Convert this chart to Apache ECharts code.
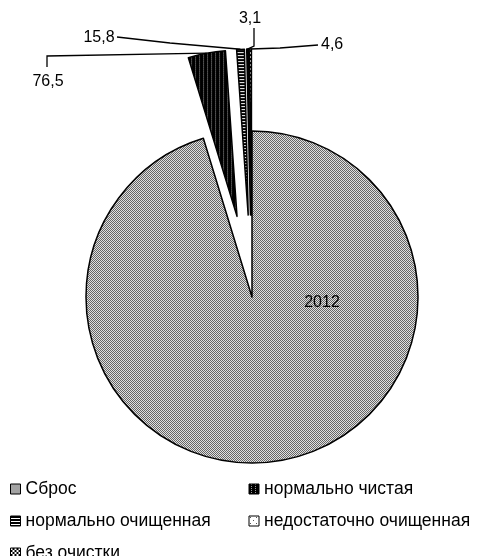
<!DOCTYPE html>
<html>
<head>
<meta charset="utf-8">
<script src="https://cdn.jsdelivr.net/npm/echarts@6/dist/echarts.min.js"></script>
<style>
  html, body { margin: 0; padding: 0; background: #ffffff; }
  #chart { width: 482px; height: 556px; }
</style>
</head>
<body>
<div id="chart"></div>
<script>
// Water discharge structure
const categories = ['Сброс', 'нормально чистая', 'нормально очищенная', 'недостаточно очищенная', 'без очистки'];
const values = [2012, 76.5, 15.8, 3.1, 4.6];
const valueLabels = ['2012', '76,5', '15,8', '3,1', '4,6'];
const explodedSlices = [false, true, true, true, true];

const FONT = '"Liberation Sans", Arial, sans-serif';
const PIE_CENTER = [252, 297];
const PIE_RADIUS = 166;
const EXPLODE = 82;

// Small pixel fill patterns, drawn onto canvases
function makePattern(w, h, bg, fg, pixels) {
  const c = document.createElement('canvas');
  c.width = w; c.height = h;
  const ctx = c.getContext('2d');
  ctx.fillStyle = bg;
  ctx.fillRect(0, 0, w, h);
  ctx.fillStyle = fg;
  pixels.forEach(p => ctx.fillRect(p[0], p[1], 1, 1));
  return { image: c, repeat: 'repeat' };
}

function checker(w, h, cell) {
  const px = [];
  for (let y = 0; y < h; y++) for (let x = 0; x < w; x++) {
    if (((Math.floor(x / cell) + Math.floor(y / cell)) % 2) === 0) px.push([x, y]);
  }
  return px;
}

const fills = [
  makePattern(8, 8, '#e0e0e0', '#666666', checker(8, 8, 1)),
  makePattern(4, 2, '#000000', '#9a9a9a', [[2, 0]]),
  makePattern(2, 3, '#000000', '#ffffff', [[0, 2], [1, 2]]),
  makePattern(6, 6, '#ffffff', '#555555', [[1, 1], [4, 4]]),
  makePattern(4, 4, '#000000', '#ffffff', checker(4, 4, 2))
];

// Leader-line bends and label anchors
const leaderBends = [null, [[47, 56], [47, 67]], [[170, 43], [117, 37]], [[254, 46], [254, 28]], [[280, 48], [318, 45]]];
const labelAnchors = [[322, 303, 'center', 'middle'], [48, 82, 'center', 'middle'], [99, 38, 'center', 'middle'],
                      [250, 19, 'center', 'middle'], [321, 45, 'left', 'middle']];

const sliceData = categories.map((name, i) => ({
  name: name,
  value: values[i],
  selected: explodedSlices[i],
  itemStyle: { color: fills[i] }
}));

// Unexploded twin of the pie that only carries the value labels
const labelData = categories.map((name, i) => ({
  name: name,
  value: values[i],
  labelLine: { show: i > 0 }
}));

const chart = echarts.init(document.getElementById('chart'), null, { renderer: 'canvas' });

chart.setOption({
  animation: false,
  backgroundColor: '#ffffff',
  legend: {
    left: 10,
    top: 480,
    width: 472,
    padding: 0,
    orient: 'horizontal',
    itemGap: 14,
    itemWidth: 10,
    itemHeight: 10,
    itemTextGap: 7,
    icon: 'rect',
    selectedMode: false,
    itemStyle: { borderColor: '#000000', borderWidth: 1 },
    textStyle: { fontFamily: FONT, fontSize: 17.5, color: '#000000', width: 209, lineHeight: 16 },
    data: categories
  },
  series: [{
    type: 'pie',
    center: PIE_CENTER,
    radius: [0, PIE_RADIUS],
    startAngle: 90,
    clockwise: true,
    selectedMode: 'multiple',
    selectedOffset: EXPLODE,
    itemStyle: { borderColor: '#000000', borderWidth: 1.5 },
    select: { itemStyle: { borderColor: '#000000', borderWidth: 1.5 } },
    emphasis: { disabled: true },
    label: { show: false },
    labelLine: { show: false },
    data: sliceData
  }, {
    type: 'pie',
    center: PIE_CENTER,
    radius: [0, PIE_RADIUS],
    startAngle: 90,
    clockwise: true,
    silent: true,
    selectedMode: false,
    avoidLabelOverlap: false,
    itemStyle: { color: 'rgba(0,0,0,0)', borderWidth: 0 },
    emphasis: { disabled: true },
    label: {
      show: true,
      fontFamily: FONT,
      fontSize: 16,
      color: '#000000',
      formatter: p => valueLabels[p.dataIndex]
    },
    labelLine: { show: true, lineStyle: { color: '#000000', width: 1.3 } },
    labelLayout: function (params) {
      const i = params.dataIndex;
      const a = labelAnchors[i];
      const out = { x: a[0], y: a[1], align: a[2], verticalAlign: a[3] };
      if (leaderBends[i] && params.labelLinePoints) {
        // start the leader on the exploded slice's outer edge
        const p0 = params.labelLinePoints[0];
        const dx = p0[0] - PIE_CENTER[0], dy = p0[1] - PIE_CENTER[1];
        const len = Math.sqrt(dx * dx + dy * dy) || 1;
        const start = [p0[0] + dx / len * EXPLODE, p0[1] + dy / len * EXPLODE];
        out.labelLinePoints = [start, leaderBends[i][0], leaderBends[i][1]];
      }
      return out;
    },
    data: labelData
  }]
});
</script>
</body>
</html>
